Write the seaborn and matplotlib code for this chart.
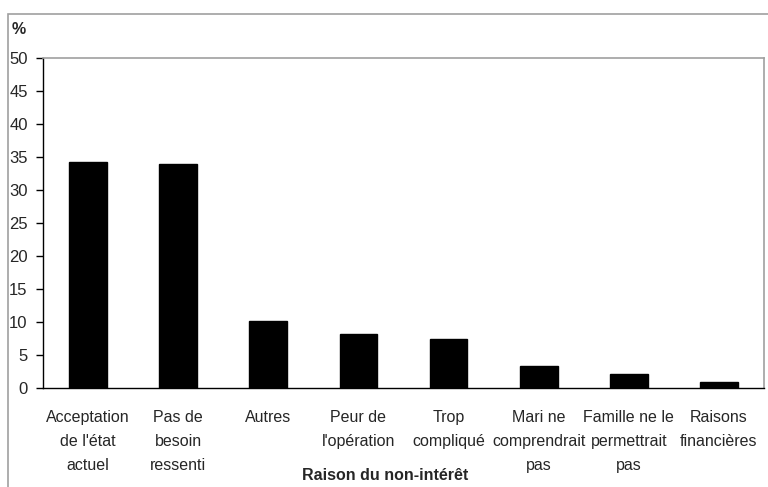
import matplotlib
matplotlib.use("Agg")
import matplotlib.pyplot as plt
import seaborn as sns
import pandas as pd
from matplotlib.patches import Rectangle

categories = ["Acceptation\nde l'état\nactuel", "Pas de\nbesoin\nressenti", "Autres",
              "Peur de\nl'opération", "Trop\ncompliqué", "Mari ne\ncomprendrait\npas",
              "Famille ne le\npermettrait\npas", "Raisons\nfinancières"]
values = [34.3, 34.0, 10.1, 8.2, 7.4, 3.4, 2.1, 0.9]
yticks = list(range(0, 51, 5))

sns.set_theme(style="white")
plt.rcParams['font.family'] = ['Liberation Sans', 'DejaVu Sans']

df = pd.DataFrame({"cat": categories, "val": values})

fig = plt.figure(figsize=(7.68, 4.87), dpi=100)
ax = fig.add_axes([43/768, 1-388/487, (764-43)/768, (388-58)/487])

fig.patches.append(Rectangle((8/768, -0.1), 1.0, 1-14/487+0.1, transform=fig.transFigure,
                             fill=False, edgecolor="#a0a0a0", linewidth=1.2, zorder=0))

sns.barplot(data=df, x="cat", y="val", color="black", width=0.42, ax=ax,
            edgecolor="black", saturation=1)

fs = 11.5
ax.set_ylim(0, 50)
ax.set_xlim(-0.5, len(categories)-0.5)
ax.set_yticks(yticks)
ax.set_yticklabels([str(t) for t in yticks], fontsize=12)
ax.set_xticks(range(len(categories)))
ax.set_xticklabels(categories, fontsize=fs, linespacing=1.72, va="top")
ax.tick_params(axis="x", which="major", length=0, pad=16)
ax.set_xticks([i-0.5 for i in range(len(categories)+1)], minor=True)
ax.tick_params(axis="x", which="minor", length=5, width=1, color="black", direction="out")
ax.tick_params(axis="y", length=5, width=1, color="black", direction="out", pad=6, left=True)

for s in ["top", "right"]:
    ax.spines[s].set_color("#a0a0a0")
    ax.spines[s].set_linewidth(1.2)
for s in ["left", "bottom"]:
    ax.spines[s].set_color("black")
    ax.spines[s].set_linewidth(1)

ax.set_xlabel("")
ax.set_ylabel("")
fig.text(385/768, 1-475/487, "Raison du non-intérêt", ha="center", va="center",
         fontsize=fs, fontweight="bold")
fig.text(12/768, 1-30/487, "%", ha="left", va="center", fontsize=fs, fontweight="bold")

fig.savefig("out.png", dpi=100)
